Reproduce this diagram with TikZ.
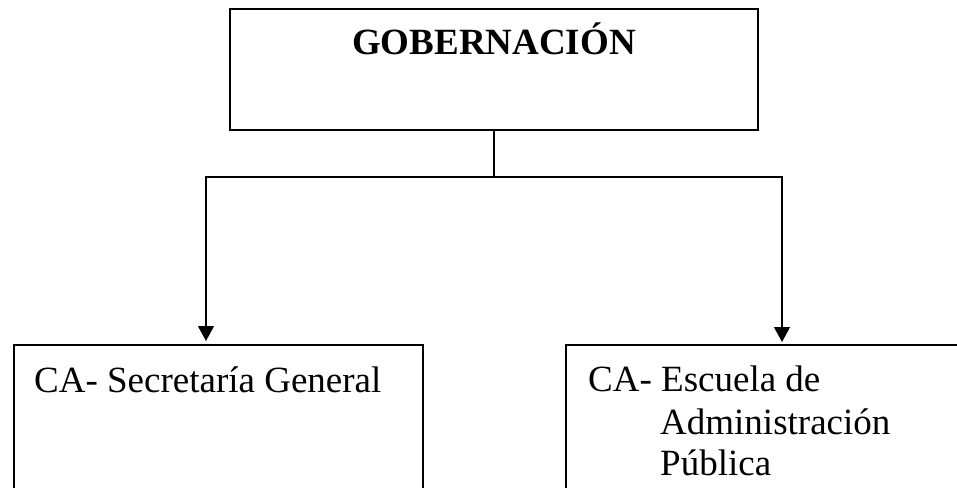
\documentclass[tikz,border=0pt]{standalone}
\usepackage{fontspec}
\setmainfont{Liberation Serif}
\usetikzlibrary{arrows.meta}
\begin{document}
\begin{tikzpicture}[x=1pt,y=-1pt,
  boxstyle/.style={draw,line width=1.2pt,rectangle,inner sep=0pt},
  txt/.style={inner sep=0pt,anchor=base west,font=\fontsize{37}{42}\selectfont},
  conn/.style={line width=1.2pt},
  arr/.style={line width=1.2pt,-{Triangle[length=15pt,width=16pt]}}]
\clip (0,0) rectangle (957,487);
\fill[white] (0,0) rectangle (957,487);
% boxes
\node[boxstyle,minimum width=528pt,minimum height=121pt] (top) at (494,69.5) {};
\node[boxstyle,minimum width=409pt,minimum height=200pt] (left) at (218.5,445) {};
\node[boxstyle,minimum width=420pt,minimum height=200pt] (right) at (776,445) {};
% texts
\node[inner sep=0pt,anchor=base,font=\fontsize{37}{42}\selectfont\bfseries] (ttop) at (494,55) {GOBERNACIÓN};
\node[txt] (tleft) at (34,392) {CA- Secretaría General};
\node[txt] (tr1) at (588,391) {CA- Escuela de};
\node[txt] (tr2) at (660,434) {Administración};
\node[txt] (tr3) at (660,475) {Pública};
% connectors
\coordinate (j) at (494,177);
\coordinate (la) at (206,341);
\coordinate (ra) at (782,342);
\draw[conn] (top.south) -- (j);
\draw[arr] (j) -| (la);
\draw[arr] (j) -| (ra);
\end{tikzpicture}
\end{document}
